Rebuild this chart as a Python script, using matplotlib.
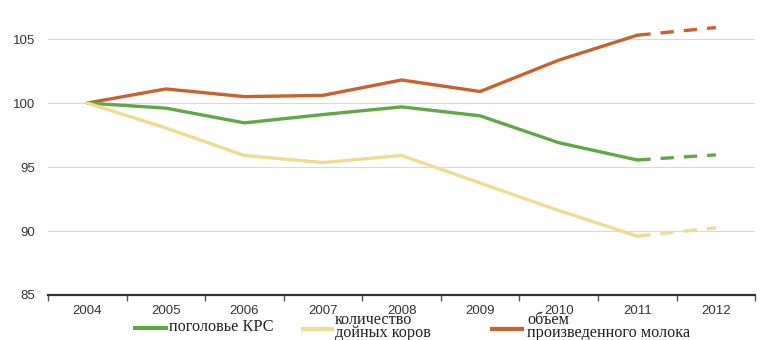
import matplotlib
matplotlib.use('Agg')
import matplotlib.pyplot as plt
from matplotlib.lines import Line2D
import numpy as np

# Данные (индекс, 2004 = 100)
years = ['2004', '2005', '2006', '2007', '2008', '2009', '2010', '2011', '2012']
pogolovie = [100, 99.6, 98.45, 99.1, 99.7, 99.0, 96.9, 95.55, 95.95]
doinye = [100, 98.05, 95.9, 95.35, 95.9, 93.75, 91.6, 89.6, 90.25]
moloko = [100, 101.1, 100.5, 100.6, 101.8, 100.9, 103.35, 105.3, 105.9]
y_ticks = [85, 90, 95, 100, 105]

c_green = '#5fa843'
c_yellow = '#efdc8e'
c_orange = '#c8612b'

fig = plt.figure(figsize=(7.62, 3.4), dpi=100)
ax = fig.add_axes([0.063, 0.1324, 0.928, 0.828])

x = np.arange(len(years))
last = len(years) - 2  # 2011 - последний факт, 2012 - прогноз
for vals, col in [(moloko, c_orange), (pogolovie, c_green), (doinye, c_yellow)]:
    ax.plot(x[:last + 1], vals[:last + 1], color=col, linewidth=2.4, solid_capstyle='round')
    ax.plot(x[last:], vals[last:], color=col, linewidth=2.4, linestyle=(0, (4, 3)))

ax.set_xlim(-0.5, len(years) - 0.5)
ax.set_ylim(85, 107)
ax.set_yticks(y_ticks)
ax.grid(axis='y', color='#d9d9d9', linewidth=0.8)
ax.set_axisbelow(True)
for s in ['top', 'right', 'left']:
    ax.spines[s].set_visible(False)
ax.spines['bottom'].set_color('#333333')
ax.spines['bottom'].set_linewidth(1.6)

# деления между категориями, подписи по центру
ax.set_xticks(np.arange(-0.5, len(years), 1.0))
ax.set_xticklabels([])
ax.tick_params(axis='x', which='major', length=4, width=1, color='#555555')
ax.set_xticks(x, minor=True)
ax.set_xticklabels(years, minor=True, fontsize=9.5, color='#333333', family='Liberation Sans')
ax.tick_params(axis='x', which='minor', length=0, pad=7.5)
ax.tick_params(axis='y', length=0, pad=9.5, labelsize=9.5, labelcolor='#333333')
for t in ax.get_yticklabels():
    t.set_family('Liberation Sans')

# легенда
serif = dict(family='Liberation Serif', fontsize=11.7, color='#222222')
H = 340.0
W = 762.0
fig.add_artist(Line2D([135 / W, 166 / W], [1 - 328 / H] * 2, color=c_green, linewidth=3))
fig.text(169 / W, 1 - 327 / H, 'поголовье КРС', va='center', ha='left', **serif)
fig.add_artist(Line2D([303 / W, 332 / W], [1 - 329 / H] * 2, color=c_yellow, linewidth=3))
fig.text(335 / W, 1 - 320 / H, 'количество', va='center', ha='left', **serif)
fig.text(335 / W, 1 - 333 / H, 'дойных коров', va='center', ha='left', **serif)
fig.add_artist(Line2D([492 / W, 522 / W], [1 - 329 / H] * 2, color=c_orange, linewidth=3))
fig.text(527 / W, 1 - 320 / H, 'объем', va='center', ha='left', **serif)
fig.text(527 / W, 1 - 333 / H, 'произведенного молока', va='center', ha='left', **serif)

plt.savefig('out.png', dpi=100)
plt.close()
